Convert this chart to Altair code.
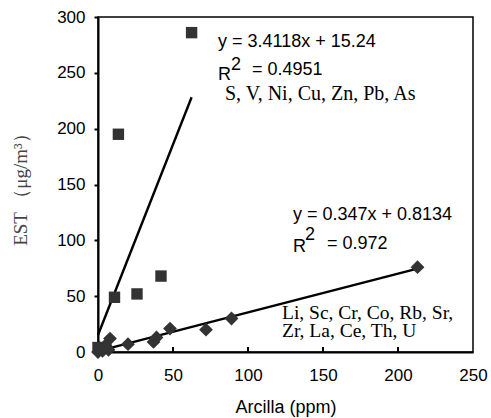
import altair as alt
import pandas as pd

# ---- data ----
sq_x = [0, 11, 26, 42, 13.6, 62.4]
sq_y = [4, 49, 52, 68, 195, 286]

di_x = [0, 1, 3, 5, 8, 7, 20, 37, 39, 48, 72, 89, 213]
di_y = [0, 4, 1, 6, 12, 2, 7, 9, 13, 21, 20, 30, 76]

trend_slope = [3.4118, 0.347]
trend_icpt = [15.24, 0.8134]
trend_xmin = [0, 0]
trend_xmax = [62.4, 213]

x_ticks = [0, 50, 100, 150, 200, 250]
y_ticks = [0, 50, 100, 150, 200, 250, 300]

eq1 = "y = 3.4118x + 15.24"
r2_1 = "= 0.4951"
grp1 = "S, V, Ni, Cu, Zn, Pb, As"
eq2 = "y = 0.347x + 0.8134"
r2_2 = "= 0.972"
grp2 = ["Li, Sc, Cr, Co, Rb, Sr,", "Zr, La, Ce, Th, U"]

x_title = "Arcilla (ppm)"
y_title = "EST （μg/m³）"

W, H = 375, 335

sq = pd.DataFrame({"x": sq_x, "y": sq_y})
di = pd.DataFrame({"x": di_x, "y": di_y})
rows = []
for i in range(len(trend_slope)):
    for xv in (trend_xmin[i], trend_xmax[i]):
        rows.append({"s": i, "x": xv, "y": trend_slope[i] * xv + trend_icpt[i]})
tr = pd.DataFrame(rows)
xt = pd.DataFrame({"x": x_ticks[1:-1]})

xs = alt.Scale(domain=[0, 250], nice=False)
ys = alt.Scale(domain=[0, 300], nice=False)

xax = alt.Axis(values=x_ticks, title=x_title, ticks=False, labelPadding=15,
               labelFlush=False, labelOverlap=False,
               titleFont="Liberation Sans", titleFontSize=18, titleFontWeight="normal",
               titleColor="black", titleBaseline="alphabetic", titleY=60,
               titleX=W / 2, titleAlign="center")
yax = alt.Axis(values=y_ticks, title=y_title, tickSize=4, tickWidth=2, tickColor="black",
               labelPadding=9, labelFlush=False, labelOverlap=False,
               titleFont="Liberation Serif", titleFontSize=19,
               titleFontWeight="normal", titleColor="#444444", titleAngle=270,
               titleX=-78, titleY=H / 2, titleAlign="center", titleBaseline="middle")

squares = alt.Chart(sq).mark_point(shape="square", filled=True, size=130,
                                   color="#333333", opacity=1).encode(
    x=alt.X("x:Q", scale=xs, axis=xax),
    y=alt.Y("y:Q", scale=ys, axis=yax),
)
diamonds = alt.Chart(di).mark_point(shape="diamond", filled=True, size=190,
                                    color="#333333", opacity=1).encode(
    x=alt.X("x:Q", scale=xs),
    y=alt.Y("y:Q", scale=ys),
)
lines = alt.Chart(tr).mark_line(color="black", strokeWidth=2.4).encode(
    x=alt.X("x:Q", scale=xs),
    y=alt.Y("y:Q", scale=ys),
    detail="s:N",
)
xtick = alt.Chart(xt).mark_rule(color="black", strokeWidth=2).encode(
    x=alt.X("x:Q", scale=xs),
    y=alt.value(H - 5),
    y2=alt.value(H),
)


def txt(s, px, py, font="Liberation Sans", size=18):
    return alt.Chart(alt.Data(values=[{}])).mark_text(
        text=s, font=font, fontSize=size, align="left", baseline="alphabetic",
        color="black").encode(x=alt.value(px), y=alt.value(py))


texts = [
    txt(eq1, 120, 30),
    txt("R", 120, 63),
    txt("2", 133, 53),
    txt(r2_1, 154, 58),
    txt(grp1, 127, 83, font="Liberation Serif", size=20),
    txt(eq2, 195, 203),
    txt("R", 195, 235),
    txt("2", 207, 223),
    txt(r2_2, 229, 232),
    txt(grp2[0], 184, 302, font="Liberation Serif", size=19.5),
    txt(grp2[1], 184, 320, font="Liberation Serif", size=19.5),
]

chart = alt.layer(lines, squares, diamonds, xtick, *texts).properties(
    width=W, height=H,
    autosize="none",
    padding={"left": 98, "top": 17, "right": 18, "bottom": 66},
).configure_view(stroke="black", strokeWidth=1.5).configure_axis(
    grid=False, domainColor="black", domainWidth=2,
    labelFont="Liberation Sans", labelFontSize=17, labelColor="black",
)

chart.save("out.html", embed_options={"renderer": "svg", "actions": False})
